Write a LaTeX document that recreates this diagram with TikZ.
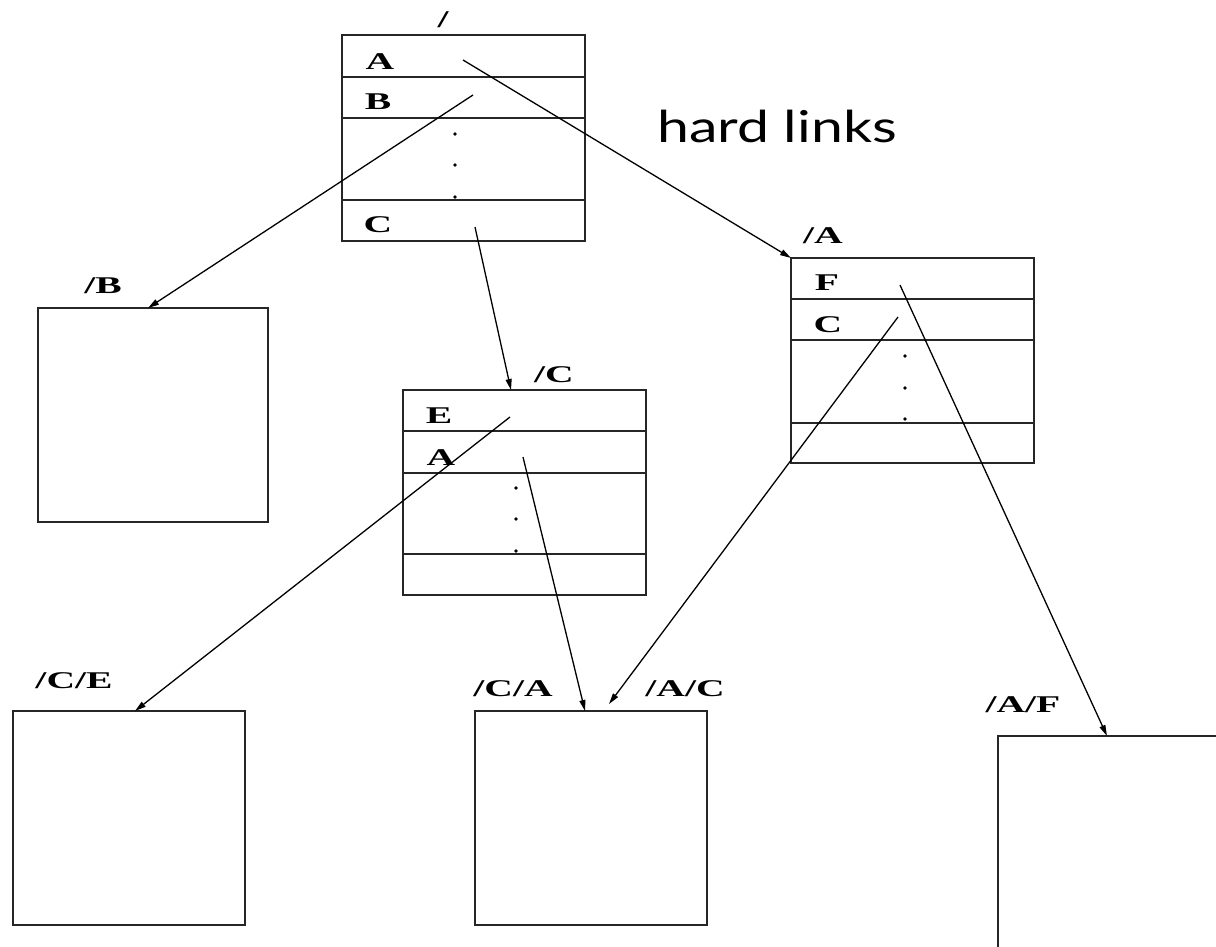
\documentclass[tikz,border=0pt]{standalone}
\usepackage{fontspec}
\setmainfont{Liberation Serif}
\newfontfamily\lblfont[FakeStretch=1.65]{Liberation Serif}
\newfontfamily\notefont[FakeStretch=1.3]{Lato}
\usetikzlibrary{arrows.meta}
\tikzset{
  dirbox/.style={draw=black!85, line width=1.8pt, rectangle, inner sep=0pt,
                 outer sep=0pt, anchor=north west},
  rowline/.style={draw=black!85, line width=1.6pt},
  lbl/.style={font=\lblfont\bfseries\fontsize{24}{24}\selectfont, inner sep=0pt},
  link/.style={line width=1.3pt, -{Triangle[length=11pt,width=6pt]}},
  dotmark/.style={fill=black}
}
\begin{document}
\begin{tikzpicture}[x=1pt,y=-1pt]
\useasboundingbox (0,0) rectangle (1216,947);
\clip (0,0) rectangle (1216,947);

% directory "/"
\node[dirbox, minimum width=243pt, minimum height=206pt] (root) at (342,35) {};
\foreach \d in {42,83,165}
  \draw[rowline] ([yshift=-\d pt]root.north west) -- ([yshift=-\d pt]root.north east);
\node[lbl] (rootname) at (443,20) {/};
\node[lbl] (rootA) at (380,62) {A};
\node[lbl] (rootB) at (378,102) {B};
\node[lbl] (rootC) at (378,225) {C};
\foreach \y in {134,165,197} \fill[dotmark] (455,\y) circle (1.8);

% directory "/A"
\node[dirbox, minimum width=243pt, minimum height=205pt] (dA) at (791,258) {};
\foreach \d in {41,82,165}
  \draw[rowline] ([yshift=-\d pt]dA.north west) -- ([yshift=-\d pt]dA.north east);
\node[lbl] (dAname) at (823,236) {/A};
\node[lbl] (dAF) at (827,283) {F};
\node[lbl] (dAC) at (828,325) {C};
\foreach \y in {356,388,419} \fill[dotmark] (905,\y) circle (1.8);

% directory "/C"
\node[dirbox, minimum width=243pt, minimum height=205pt] (dC) at (403,390) {};
\foreach \d in {41,83,164}
  \draw[rowline] ([yshift=-\d pt]dC.north west) -- ([yshift=-\d pt]dC.north east);
\node[lbl] (dCname) at (554,375) {/C};
\node[lbl] (dCE) at (439,416) {E};
\node[lbl] (dCA) at (441,458) {A};
\foreach \y in {488,519,551} \fill[dotmark] (516,\y) circle (1.8);

% files
\node[dirbox, minimum width=230pt, minimum height=214pt] (fB) at (38,308) {};
\node[lbl] (fBname) at (103,286) {/B};
\node[dirbox, minimum width=232pt, minimum height=214pt] (fCE) at (13,711) {};
\node[lbl] (fCEname) at (74,681) {/C/E};
\node[dirbox, minimum width=232pt, minimum height=214pt] (fCA) at (475,711) {};
\node[lbl] (fCAname) at (513,689) {/C/A};
\node[lbl] (fACname) at (685,689) {/A/C};
\node[dirbox, minimum width=260pt, minimum height=240pt] (fAF) at (998,736) {};
\node[lbl] (fAFname) at (1023,705) {/A/F};

% link endpoints
\coordinate (sRA) at (463,60);
\coordinate (sRB) at (473,95);
\coordinate (sRC) at (475,227);
\coordinate (sAF) at (900,285);
\coordinate (sAC) at (898,317);
\coordinate (sCE) at (510,417);
\coordinate (sCA) at (523,457);
\coordinate (eB)  at (148,308);
\coordinate (eC)  at (511,390);
\coordinate (eCE) at (135,711);
\coordinate (eCA) at (585,711);
\coordinate (eAC) at (609,704);
\coordinate (eAF) at (1107,736);

% hard links
\draw[link] (sRA) -- (dA.north west);
\draw[link] (sRB) -- (eB);
\draw[link] (sRC) -- (eC);
\draw[link] (sAF) -- (eAF);
\draw[link] (sAC) -- (eAC);
\draw[link] (sCE) -- (eCE);
\draw[link] (sCA) -- (eCA);

\node[font=\notefont\fontsize{44}{44}\selectfont, inner sep=0pt, anchor=base west]
  (note) at (657,143) {hard links};
\end{tikzpicture}
\end{document}
